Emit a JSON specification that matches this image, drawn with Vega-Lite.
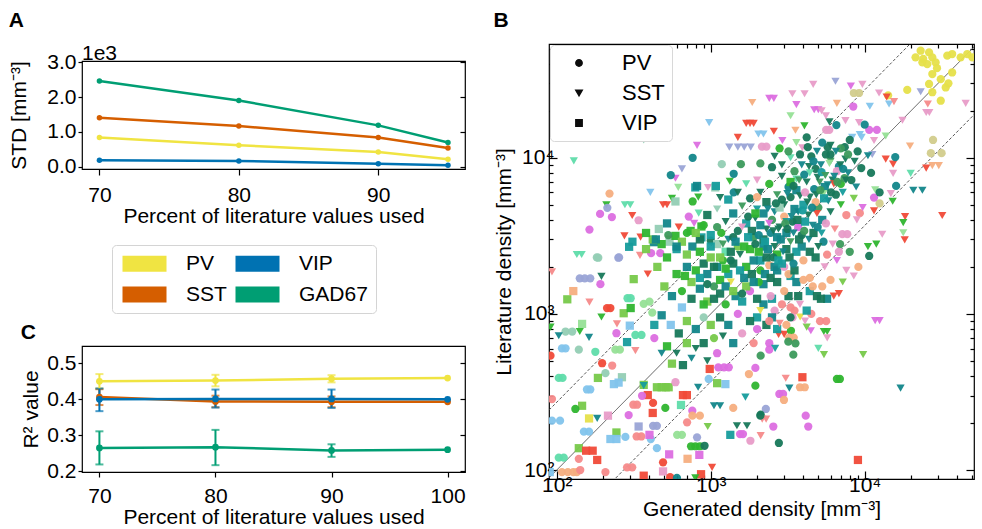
{
"$schema":"https://vega.github.io/schema/vega-lite/v6.json",
"background":"white",
"padding":{"left":8,"top":9,"right":2,"bottom":0},
"config":{
 "font":"Liberation Sans",
 "view":{"stroke":"black","strokeWidth":1.2},
 "axis":{"labelFont":"Liberation Sans","titleFont":"Liberation Sans","labelFontSize":21,"titleFontSize":21,"labelColor":"black","titleColor":"black","titleFontWeight":"normal","domain":false,"grid":false,"tickColor":"black","tickWidth":1.2},
 "title":{"font":"Liberation Sans","fontSize":21,"fontWeight":"bold","anchor":"start","frame":"bounds","color":"black"},
 "legend":{"labelFont":"Liberation Sans","labelFontSize":21,"labelColor":"black"}
},
"spacing":26,
"hconcat":[
 {"vconcat":[
  {"width":383,"height":1,"view":{"stroke":null},"data":{"values":[{"k":1}]},"mark":{"type":"point","opacity":0},"encoding":{}},
  {"vconcat":[
  {
   "title":{"text":"A","offset":12},
   "width":383,"height":108,
   "data":{"values":[
    {"pct":70,"std":2460,"type":"GAD67"},{"pct":80,"std":1900,"type":"GAD67"},{"pct":90,"std":1190,"type":"GAD67"},{"pct":95,"std":700,"type":"GAD67"},
    {"pct":70,"std":1410,"type":"SST"},{"pct":80,"std":1170,"type":"SST"},{"pct":90,"std":840,"type":"SST"},{"pct":95,"std":540,"type":"SST"},
    {"pct":70,"std":840,"type":"PV"},{"pct":80,"std":620,"type":"PV"},{"pct":90,"std":430,"type":"PV"},{"pct":95,"std":220,"type":"PV"},
    {"pct":70,"std":190,"type":"VIP"},{"pct":80,"std":170,"type":"VIP"},{"pct":90,"std":90,"type":"VIP"},{"pct":95,"std":50,"type":"VIP"}
   ]},
   "encoding":{"x":{"field":"pct","type":"quantitative","scale":{"domain":[68.75,96.22],"nice":false,"zero":false},"axis":{"values":[70,80,90],"title":"Percent of literature values used","tickSize":6,"labelPadding":9,"titlePadding":0}}},
   "layer":[
    {"mark":{"type":"circle","size":30,"opacity":1},
     "encoding":{"y":{"field":"std","type":"quantitative","scale":{"domain":[-58,3030],"nice":false,"zero":false},"axis":{"values":[0,1000,2000,3000],"labelExpr":"format(datum.value/1000,'.1f')","title":"STD [mm⁻³]","tickSize":4,"labelPadding":2,"titlePadding":17}},
      "color":{"field":"type","type":"nominal","scale":{"domain":["PV","SST","VIP","GAD67"],"range":["#f0e442","#d55e00","#0072b2","#009e73"]},
       "legend":{"orient":"none","legendX":30,"legendY":184,"columns":2,"title":null,"symbolType":"M-2.75,-1L2.75,-1L2.75,1L-2.75,1Z","symbolSize":256,"symbolOffset":14,"symbolStrokeWidth":0,"symbolOpacity":1,"labelFontSize":21,"labelOffset":31,"columnPadding":6,"rowPadding":9,"padding":8,"strokeColor":"#d4d4d4","cornerRadius":4,"fillColor":"white"}}}},
    {"mark":{"type":"line","strokeWidth":2.5},
     "encoding":{"y":{"field":"std","type":"quantitative","axis":{"orient":"right","values":[0,1000,2000,3000],"labels":false,"title":null,"tickSize":-5}},
      "color":{"field":"type","type":"nominal","scale":{"domain":["PV","SST","VIP","GAD67"],"range":["#f0e442","#d55e00","#0072b2","#009e73"]}}}},
    {"data":{"values":[{"pct":68.75,"std":3030,"t":"1e3"}]},"mark":{"type":"text","align":"left","baseline":"alphabetic","fontSize":21,"dy":-1,"color":"black"},
     "encoding":{"x":{"field":"pct","type":"quantitative"},"y":{"field":"std","type":"quantitative","axis":null},"text":{"field":"t","type":"nominal"}}}
   ],
   "resolve":{"axis":{"y":"independent"}}
  },
  {
   "title":{"text":"C","offset":3},
   "width":383,"height":126,
   "data":{"values":[
    {"pct":70,"r2":0.265,"lo":0.219,"hi":0.311,"type":"GAD67"},{"pct":80,"r2":0.267,"lo":0.217,"hi":0.315,"type":"GAD67"},{"pct":90,"r2":0.258,"lo":0.240,"hi":0.275,"type":"GAD67"},{"pct":100,"r2":0.260,"lo":0.260,"hi":0.260,"type":"GAD67"},
    {"pct":70,"r2":0.406,"lo":0.384,"hi":0.428,"type":"SST"},{"pct":80,"r2":0.394,"lo":0.378,"hi":0.410,"type":"SST"},{"pct":90,"r2":0.393,"lo":0.378,"hi":0.408,"type":"SST"},{"pct":100,"r2":0.393,"lo":0.393,"hi":0.393,"type":"SST"},
    {"pct":70,"r2":0.450,"lo":0.430,"hi":0.470,"type":"PV"},{"pct":80,"r2":0.452,"lo":0.436,"hi":0.468,"type":"PV"},{"pct":90,"r2":0.457,"lo":0.447,"hi":0.467,"type":"PV"},{"pct":100,"r2":0.459,"lo":0.459,"hi":0.459,"type":"PV"},
    {"pct":70,"r2":0.400,"lo":0.367,"hi":0.430,"type":"VIP"},{"pct":80,"r2":0.401,"lo":0.377,"hi":0.427,"type":"VIP"},{"pct":90,"r2":0.401,"lo":0.376,"hi":0.427,"type":"VIP"},{"pct":100,"r2":0.400,"lo":0.400,"hi":0.400,"type":"VIP"}
   ]},
   "encoding":{"x":{"field":"pct","type":"quantitative","scale":{"domain":[68.5,101.5],"nice":false,"zero":false},"axis":{"values":[70,80,90,100],"title":"Percent of literature values used","tickSize":5,"labelPadding":8,"titlePadding":0}},
    "color":{"field":"type","type":"nominal","scale":{"domain":["PV","SST","VIP","GAD67"],"range":["#f0e442","#d55e00","#0072b2","#009e73"]},"legend":null}},
   "layer":[
    {"mark":{"type":"line","strokeWidth":2.5},
     "encoding":{"y":{"field":"r2","type":"quantitative","scale":{"domain":[0.198,0.548],"nice":false,"zero":false},"axis":{"values":[0.2,0.3,0.4,0.5],"format":".1f","title":"R² value","tickSize":4,"labelPadding":2,"titlePadding":5}}}},
    {"transform":[{"filter":"datum.hi > datum.lo"}],"mark":{"type":"errorbar","ticks":{"size":8},"thickness":2},
     "encoding":{"y":{"field":"lo","type":"quantitative","axis":null},"y2":{"field":"hi"}}},
    {"mark":{"type":"circle","size":45,"opacity":1},
     "encoding":{"y":{"field":"r2","type":"quantitative","axis":{"orient":"right","values":[0.2,0.3,0.4,0.5],"labels":false,"title":null,"tickSize":-5}}}}
   ],
   "resolve":{"axis":{"y":"independent"}}
  }
  ],"spacing":6,"resolve":{"scale":{"color":"independent"},"legend":{"color":"independent"}}}
 ],"spacing":-39,"resolve":{"scale":{"color":"independent"},"legend":{"color":"independent"}}},
 {
  "title":{"text":"B","offset":12},
  "width":425,"height":435,
  "layer":[
   {"data":{"values":[{"gen":50,"lit":50,"k":"mid"},{"gen":100000,"lit":100000,"k":"mid"},{"gen":50,"lit":136,"k":"up"},{"gen":100000,"lit":272000,"k":"up"},{"gen":50,"lit":18.4,"k":"lo"},{"gen":100000,"lit":36800,"k":"lo"}]},
    "mark":{"type":"line","strokeWidth":0.9,"color":"#444444","clip":true},
    "encoding":{"x":{"field":"gen","type":"quantitative","scale":{"type":"log","domain":[89,51300],"nice":false},"axis":null},
     "y":{"field":"lit","type":"quantitative","scale":{"type":"log","domain":[87.6,53560],"nice":false},"axis":null},
     "strokeDash":{"field":"k","type":"nominal","scale":{"domain":["mid","up","lo"],"range":[[1,0],[3,2],[3,2]]},"legend":null}}},
   {"data":{"values":"gen,lit,type,region\n21400,44000,PV,c16\n23100,48500,PV,c16\n26200,47300,PV,c16\n27500,44000,PV,c16\n23700,40800,PV,c16\n25500,39800,PV,c16\n28900,40800,PV,c16\n34400,45100,PV,c16\n37000,46200,PV,c16\n42000,44000,PV,c16\n46400,46200,PV,c16\n50000,44000,PV,c16\n37000,35200,PV,c16\n27500,34400,PV,c16\n26200,29700,PV,c16\n31200,31900,PV,c16\n33600,28200,PV,c16\n27500,26300,PV,c16\n31200,23200,PV,c16\n18900,27200,PV,c16\n24000,43000,PV,c16\n29500,37500,PV,c16\n35000,30000,PV,c16\n14200,25100,PV,c16\n8500,26000,PV,c17\n9200,26000,PV,c17\n27800,13000,PV,c17\n26900,10700,PV,c17\n31600,10700,PV,c17\n23100,26500,SST,c15\n25100,19500,SST,c9\n26300,19500,SST,c9\n45300,22300,SST,c9\n25700,22100,SST,c12\n17600,17400,SST,c9\n10800,21400,SST,c14\n14400,22100,SST,c14\n13900,24500,SST,c11\n15500,22900,SST,c12\n12400,26000,SST,c9\n9660,29500,SST,c9\n8130,28800,SST,c10\n6460,30900,SST,c15\n4630,29500,SST,c9\n2400,24000,SST,c10\n2570,24000,SST,c10\n3390,25700,SST,c9\n4070,25700,SST,c9\n3600,21900,SST,c10\n4700,20300,SST,c10\n5000,20300,SST,c10\n6600,22300,SST,c13\n3300,18600,SST,c6\n2570,14800,SST,c11\n3550,15000,SST,c13\n4060,16000,SST,c4\n2920,12900,SST,c10\n3940,11600,SST,c9\n7500,17300,SST,c9\n9190,16800,SST,c9\n5900,17000,SST,c1\n13700,13800,SST,c6\n11500,12900,SST,c9\n19700,11900,SST,c13\n11200,10500,SST,c15\n13700,9800,SST,c11\n15300,9100,SST,c11\n15300,7940,SST,c9\n19900,7940,SST,c7\n20700,6200,SST,c2\n23700,6200,SST,c2\n27500,8900,SST,c13\n30300,8900,SST,c13\n25100,8590,SST,c11\n31900,4270,SST,c11\n18300,4200,SST,c11\n17800,3840,SST,c4\n17800,3310,SST,c6\n18200,2980,SST,c11\n13000,3240,SST,c9\n14800,5900,SST,c9\n15200,5270,SST,c4\n11500,4570,SST,c11\n11700,6240,SST,c6\n10500,2700,SST,c4\n11900,2800,SST,c4\n129,9550,SST,c7\n367,13000,SST,c8\n977,16800,SST,c14\n1860,22600,SST,c13\n1700,16600,SST,c11\n1800,16600,SST,c11\n1900,16600,SST,c11\n1500,13500,SST,c11\n815,12000,SST,c10\n1320,11700,SST,c15\n1500,11700,SST,c15\n1650,11700,SST,c15\n1820,11700,SST,c15\n590,7400,SST,c10\n650,8500,SST,c15\n615,6460,SST,c6\n405,6000,SST,c14\n277,5000,SST,c7\n300,5000,SST,c7\n210,5000,SST,c4\n490,5000,SST,c11\n520,5000,SST,c11\n835,4420,SST,c7\n560,5500,SST,c4\n830,5600,SST,c4\n960,6450,SST,c9\n1150,5560,SST,c1\n1330,7080,SST,c4\n309,4270,SST,c11\n2040,14200,SST,c14\n2200,14200,SST,c14\n5250,20000,SST,c9\n5600,18600,SST,c9\n2150,11800,PV,c9\n2300,11800,PV,c9\n5620,15100,PV,c9\n5890,15100,PV,c9\n10700,15100,PV,c10\n12000,15100,PV,c10\n10000,16300,PV,c2\n6550,16200,PV,c2\n4270,11700,PV,c1\n5750,11700,PV,c1\n7420,11700,PV,c1\n8430,21300,PV,c10\n9300,14100,SST,c14\n9550,13500,SST,c14\n8300,13500,SST,c14\n15800,10100,PV,c2\n16000,6600,PV,c2\n12500,5100,PV,c17\n11500,5560,PV,c10\n9300,4420,PV,c12\n7160,3240,PV,c9\n7710,3240,PV,c9\n6920,2800,PV,c3\n10700,2350,PV,c1\n550,7750,PV,c2\n763,10000,PV,c2\n220,5900,PV,c13\n213,4780,PV,c15\n191,4370,PV,c10\n228,4170,PV,c10\n340,3980,PV,c9\n163,3470,PV,c10\n470,2450,PV,c10\n410,2450,PV,c10\n537,3020,SST,c11\n540,2900,VIP,c8\n590,3160,VIP,c4\n740,3400,VIP,c4\n870,3630,VIP,c4\n870,3090,VIP,c18\n1000,2950,PV,c1\n1100,2800,VIP,c8\n1170,3300,PV,c4\n427,2880,VIP,c2\n135,2400,SST,c7\n145,2400,SST,c7\n186,2290,PV,c8\n251,2290,PV,c15\n347,2370,SST,c12\n275,3160,SST,c11\n295,2690,VIP,c18\n590,5250,VIP,c8\n794,6460,VIP,c18\n1070,6460,VIP,c8\n763,5250,PV,c4\n420,3000,VIP,c5\n480,2800,VIP,c4\n530,3200,PV,c3\n600,2600,VIP,c18\n650,2900,VIP,c5\n700,3300,PV,c4\n760,2700,VIP,c2\n850,3000,VIP,c1\n520,3800,VIP,c2\n460,3500,VIP,c8\n380,2600,VIP,c5\n310,2900,VIP,c18\n350,3100,SST,c11\n620,3600,SST,c11\n720,4200,PV,c10\n780,3800,SST,c10\n1410,6000,PV,c2\n1410,7900,PV,c2\n1570,9100,PV,c3\n1180,9100,PV,c8\n1080,6600,VIP,c18\n815,6600,VIP,c2\n380,3300,VIP,c4\n440,3000,VIP,c2\n182,2300,PV,c8\n254,2300,PV,c15\n11700,906,SST,c10\n12500,906,SST,c10\n5130,898,PV,c12\n5620,898,PV,c12\n5430,771,SST,c4\n5710,771,SST,c4\n5710,702,SST,c9\n4470,780,SST,c10\n4200,822,SST,c5\n3810,955,SST,c16\n2760,740,SST,c11\n3000,740,SST,c11\n3320,780,PV,c4\n3230,705,PV,c13\n3460,705,PV,c13\n3190,664,PV,c3\n3550,647,PV,c3\n2400,649,PV,c10\n2400,590,PV,c10\n2620,602,SST,c18\n5000,602,SST,c7\n3440,548,PV,c3\n2110,540,PV,c3\n5440,548,SST,c5\n9770,548,SST,c5\n3070,387,SST,c12\n3940,393,VIP,c11\n6600,383,PV,c4\n6900,383,PV,c4\n3800,339,PV,c13\n4080,339,PV,c13\n3240,335,SST,c2\n17100,335,SST,c2\n2790,307,PV,c10\n2950,307,PV,c10\n2990,281,PV,c13\n2280,246,PV,c15\n2110,226,PV,c1\n2160,212,SST,c12\n2290,212,SST,c12\n4140,223,PV,c10\n4300,190,PV,c10\n2550,190,PV,c10\n2770,149,PV,c1\n9040,116,VIP,c11\n2110,166,SST,c12\n93,1860,SST,c12\n141,1690,PV,c15\n152,1690,PV,c15\n165,1690,PV,c15\n195,1740,SST,c1\n192,1550,PV,c10\n316,1670,VIP,c5\n128,1400,VIP,c13\n117,1240,VIP,c5\n288,1260,PV,c7\n302,1260,PV,c7\n163,1190,SST,c12\n212,1090,PV,c11\n223,1090,PV,c11\n272,1010,VIP,c5\n367,1160,PV,c6\n302,1090,VIP,c4\n417,1020,PV,c6\n195,955,SST,c4\n246,863,SST,c12\n146,863,VIP,c6\n141,771,SST,c4\n91,822,SST,c4\n114,771,PV,c8\n126,771,PV,c8\n103,725,SST,c2\n162,708,SST,c2\n244,752,PV,c10\n298,841,VIP,c14\n324,733,PV,c7\n355,733,PV,c7\n286,660,VIP,c18\n108,602,PV,c14\n114,602,PV,c14\n139,590,PV,c8\n178,572,PV,c7\n240,590,PV,c6\n257,590,PV,c6\n324,582,SST,c12\n91,540,PV,c11\n197,483,PV,c11\n229,467,PV,c12\n207,417,PV,c8\n103,389,PV,c7\n109,389,PV,c7\n185,389,VIP,c5\n265,393,VIP,c8\n252,363,VIP,c14\n235,355,VIP,c14\n165,328,PV,c14\n157,328,PV,c14\n367,351,VIP,c5\n93,285,PV,c12\n146,258,VIP,c5\n132,246,PV,c4\n314,262,PV,c12\n332,262,PV,c12\n422,269,PV,c11\n507,250,PV,c4\n162,214,VIP,c16\n183,214,SST,c2\n215,223,VIP,c9\n93,207,PV,c14\n105,207,PV,c14\n150,176,PV,c14\n162,176,PV,c14\n293,225,PV,c10\n422,192,PV,c15\n447,192,PV,c15\n340,190,VIP,c15\n244,174,VIP,c5\n223,158,VIP,c14\n244,158,VIP,c14\n279,163,PV,c14\n330,164,PV,c12\n354,164,PV,c12\n408,158,PV,c14\n605,168,PV,c6\n650,168,PV,c6\n400,168,VIP,c10\n139,138,VIP,c5\n155,133,VIP,c11\n171,133,VIP,c11\n183,116,VIP,c11\n103,120,PV,c7\n111,120,PV,c7\n139,118,PV,c12\n108,97,PV,c13\n118,97,PV,c13\n128,97,PV,c13\n135,97,PV,c13\n142,100,PV,c12\n90,97,VIP,c14\n447,138,PV,c14\n537,126,VIP,c10\n490,112,PV,c11\n490,98,VIP,c9\n707,118,VIP,c13\n286,104,PV,c12\n309,104,PV,c12\n207,97,PV,c12\n367,92,VIP,c11\n865,94,VIP,c11\n1020,104,SST,c11\n545,90,PV,c11\n603,89,PV,c2\n794,89,SST,c4\n759,240,PV,c10\n702,202,PV,c12\n760,223,PV,c13\n850,223,PV,c13\n745,142,PV,c4\n795,142,PV,c4\n850,142,PV,c4\n912,143,PV,c1\n815,162,PV,c15\n843,125,VIP,c10\n956,190,SST,c5\n660,302,VIP,c11\n700,302,VIP,c11\n390,302,VIP,c11\n420,232,VIP,c11\n641,261,VIP,c7\n358,299,PV,c10\n447,339,VIP,c5\n480,339,VIP,c5\n510,339,VIP,c5\n533,339,VIP,c5\n367,347,SST,c18\n590,365,PV,c9\n1245,355,VIP,c14\n1100,360,VIP,c5\n970,383,PV,c14\n828,339,SST,c2\n1050,258,SST,c2\n1150,258,SST,c2\n1400,250,PV,c13\n1340,168,VIP,c18\n1550,170,PV,c10\n1620,170,PV,c10\n1810,154,PV,c9\n1480,192,SST,c1\n1720,192,SST,c1\n1680,293,SST,c18\n1770,412,PV,c13\n1950,347,PV,c4\n2100,223,PV,c1\n1120,455,PV,c10\n1220,455,PV,c10\n1310,455,PV,c10\n985,444,VIP,c11\n1950,451,PV,c10\n2100,2200,VIP,c18\n2400,2050,PV,c13\n2700,1900,VIP,c2\n3000,2000,PV,c9\n3300,1750,VIP,c18\n3600,1600,VIP,c2\n4000,1650,PV,c13\n4400,1400,VIP,c18\n4900,1300,VIP,c1\n5300,1500,PV,c13\n5700,1250,VIP,c2\n6300,1300,SST,c11\n6800,1350,SST,c11\n6000,1650,PV,c13\n2200,1150,VIP,c2\n2500,1250,VIP,c18\n2900,1150,PV,c12\n3200,1300,VIP,c1\n3500,1050,PV,c12\n2600,1050,PV,c9\n3800,1150,SST,c9\n4100,900,SST,c9\n4500,1000,PV,c12\n2300,850,VIP,c1\n2000,950,VIP,c18\n2700,800,VIP,c18\n3100,850,PV,c13\n3400,950,PV,c9\n5500,2000,SST,c9\n6600,2200,SST,c10\n7600,1900,SST,c9\n8500,1750,SST,c9\n7200,1600,SST,c5\n9100,2000,PV,c13\n8000,2500,PV,c3\n4800,2300,VIP,c1\n5400,2900,PV,c2\n600,1800,VIP,c4\n700,2000,VIP,c2\n800,1900,VIP,c4\n900,2100,VIP,c1\n1000,2300,VIP,c5\n1100,2000,VIP,c2\n1200,2200,PV,c4\n1300,1800,VIP,c18\n1400,2100,VIP,c1\n1550,2400,SST,c1\n1700,2000,VIP,c4\n1900,2200,VIP,c2\n2100,1900,PV,c4\n2300,2300,VIP,c1\n2600,2000,VIP,c2\n2900,2100,VIP,c18\n3200,1800,PV,c13\n3500,1900,VIP,c1\n4000,2200,PV,c13\n4400,1700,PV,c13\n500,1500,VIP,c5\n560,1300,VIP,c2\n650,1400,PV,c4\n750,1250,VIP,c1\n850,1450,VIP,c2\n950,1200,VIP,c5\n1050,1500,PV,c3\n1150,1350,VIP,c1\n1250,1150,PV,c4\n1350,1600,SST,c16\n1450,1300,VIP,c2\n1600,1200,VIP,c18\n1800,1400,PV,c10\n2000,1250,VIP,c1\n2200,1550,VIP,c2\n2450,1300,PV,c9\n2700,1600,VIP,c1\n3000,1400,PV,c13\n3300,1100,PV,c12\n3700,1300,VIP,c1\n4200,1050,VIP,c18\n4600,1500,PV,c13\n5200,1250,VIP,c1\n2500,950,VIP,c2\n2100,1050,SST,c16\n1800,900,VIP,c1\n1500,1000,PV,c10\n1300,850,VIP,c2\n1150,950,VIP,c1\n1000,850,VIP,c5\n900,950,PV,c8\n800,800,VIP,c2\n700,900,VIP,c5\n620,750,VIP,c1\n550,850,VIP,c14\n480,980,VIP,c2\n430,850,VIP,c18\n900,650,VIP,c1\n1050,700,PV,c5\n1200,720,SST,c1\n1400,650,VIP,c2\n800,600,SST,c1\n700,650,VIP,c5\n600,560,SST,c1\n520,620,VIP,c4\n650,1100,VIP,c14\n1600,750,PV,c9\n2000,800,PV,c10\n2400,900,PV,c12\n2800,870,SST,c12\n3300,950,PV,c1\n1900,650,PV,c12\n750,520,SST,c2\n950,500,SST,c1\n1100,560,PV,c10\n560,480,VIP,c5\n480,560,SST,c2\n660,470,VIP,c1\n400,1200,PV,c6\n430,700,PV,c10\n3900,2700,VIP,c2\n4400,2500,VIP,c1\n5000,2700,SST,c1\n5700,2400,PV,c12\n6200,2800,SST,c9\n6800,2500,PV,c9\n3600,2500,VIP,c18\n3100,2600,VIP,c1\n2700,2400,VIP,c4\n2200,2700,VIP,c2\n1800,2600,VIP,c4\n1500,2700,PV,c5\n1250,2500,VIP,c7\n1000,2700,VIP,c18\n850,2500,VIP,c4\n700,2400,VIP,c5\n600,2700,VIP,c2\n520,2300,VIP,c4\n450,2000,VIP,c5\n390,1800,SST,c11\n3000,5000,SST,c1\n3300,5600,PV,c1\n2600,4500,SST,c2\n3600,6200,VIP,c2\n4200,7000,SST,c1\n4800,8500,PV,c1\n5200,9000,SST,c2\n5600,10500,PV,c1\n6000,9500,SST,c3\n6800,8800,PV,c2\n7500,9800,SST,c1\n4500,10200,PV,c1\n3900,9000,SST,c2\n3500,8200,PV,c3\n2900,7600,SST,c1\n2400,6800,PV,c4\n2100,6000,SST,c1\n1800,5500,PV,c1\n1600,4900,SST,c3\n1400,4400,VIP,c2\n1250,3900,SST,c1\n1100,3600,PV,c3\n1000,3200,VIP,c18\n1300,3000,SST,c2\n1500,3400,PV,c1\n1700,3800,VIP,c18\n1950,4100,SST,c1\n2200,4400,VIP,c2\n2500,4000,PV,c3\n2800,3600,SST,c1\n3100,3300,VIP,c2\n3400,3900,PV,c1\n3700,4500,SST,c2\n4000,5000,VIP,c18\n4400,5600,SST,c1\n4700,6300,PV,c2\n5100,7000,SST,c3\n5500,6500,VIP,c2\n6200,7200,SST,c1\n7000,6800,PV,c4\n7800,8000,SST,c2\n3800,5700,SST,c1\n3200,6500,PV,c2\n2700,5800,SST,c3\n2300,5200,VIP,c1\n2000,4700,SST,c18\n1750,4200,PV,c1\n3500,4700,VIP,c2\n4300,4300,SST,c1\n5000,4800,PV,c3\n5800,5300,SST,c2\n6500,5800,PV,c1\n7200,6000,SST,c18\n8200,7200,PV,c1\n8800,6500,SST,c2\n9500,8600,PV,c1\n4600,3700,SST,c2\n3900,3200,PV,c1\n3300,2900,SST,c3\n2700,3100,VIP,c2\n2300,3500,SST,c1\n1900,3100,PV,c3\n2600,2700,SST,c1\n5300,4000,VIP,c2\n6000,4500,SST,c1\n4800,5200,PV,c13\n3000,4200,PV,c13\n2000,5600,PV,c13\n4100,6000,PV,c9\n5400,5900,SST,c6\n3600,7300,SST,c7\n2800,4800,VIP,c8\n6300,6800,SST,c11\n4900,4400,SST,c11\n3700,3600,PV,c10\n2400,3800,SST,c10\n1600,3600,SST,c9\n6600,8200,PV,c9\n5900,9200,SST,c6\n4400,8000,SST,c7\n3300,7000,VIP,c4\n7400,7400,PV,c3\n8500,5500,SST,c5\n7000,5000,SST,c4\n4100,3900,VIP,c18\n3100,3900,SST,c18\n2100,3700,VIP,c2\n1400,3100,PV,c1\n1200,2800,SST,c3\n5600,3800,PV,c9\n6400,3500,SST,c12\n7600,4300,PV,c12\n8900,4000,SST,c9\n9700,4800,SST,c10\n2900,9000,SST,c1\n2500,8700,PV,c1\n2000,7200,SST,c9\n1700,6800,SST,c7\n1500,6000,SST,c1\n1300,5400,VIP,c18\n1100,4700,SST,c8\n950,4300,VIP,c1\n900,3700,PV,c4\n800,3300,VIP,c5\n11000,8000,PV,c1\n10500,10300,SST,c2\n9000,11000,PV,c1\n7000,11500,PV,c3\n6000,12000,SST,c1\n4900,11000,SST,c2\n3800,10500,PV,c1\n3300,10000,SST,c7\n2600,10200,SST,c1\n2100,9200,PV,c3\n12500,6000,PV,c1\n2200,3000,VIP,c1\n2450,3300,PV,c2\n2750,3500,SST,c1\n3050,3800,PV,c3\n3350,4200,SST,c2\n3650,4000,VIP,c1\n3950,4600,PV,c18\n4250,5200,SST,c1\n4550,4800,PV,c2\n4850,5800,SST,c1\n5150,6200,PV,c3\n5450,5500,VIP,c18\n5750,6700,SST,c2\n6050,6000,PV,c1\n6350,7600,SST,c2\n6650,7000,PV,c3\n6950,9000,SST,c1\n7250,8500,PV,c2\n7550,7200,SST,c1\n2900,5400,PV,c1\n3150,5900,SST,c2\n3450,6600,PV,c1\n3750,7200,SST,c3\n4050,7800,PV,c2\n4350,8800,SST,c1\n4650,9500,PV,c2\n4950,7500,SST,c1\n5250,8100,PV,c18\n5550,7700,SST,c3\n2350,4700,SST,c2\n2650,5100,PV,c1\n1950,4400,VIP,c4\n1850,3400,VIP,c1\n2050,3200,PV,c2\n2250,2900,VIP,c18\n2550,3400,SST,c1\n2850,3000,VIP,c2\n3150,3500,PV,c1\n3450,3300,SST,c2\n3750,3000,VIP,c1\n4050,3400,PV,c3\n4350,3000,SST,c2\n4650,3300,VIP,c1\n4950,3600,PV,c2\n5250,3300,SST,c18\n1350,2500,VIP,c1\n1450,2900,VIP,c2\n1650,2700,VIP,c4\n1750,3100,VIP,c18\n1950,2800,PV,c1\n2050,2500,VIP,c4\n2350,2600,VIP,c2\n2550,2300,PV,c1\n2750,2200,VIP,c18\n2950,2500,SST,c2\n3250,2300,VIP,c1\n3450,2100,PV,c2\n1150,2300,VIP,c5\n1050,2000,VIP,c1\n950,1800,VIP,c2\n1250,1950,VIP,c4\n1350,2200,PV,c1\n1550,1900,VIP,c18\n1650,1700,VIP,c2\n1850,1800,VIP,c1\n2050,1600,PV,c4\n2250,1800,VIP,c2\n2450,1700,VIP,c1\n1150,1650,VIP,c4\n1250,1500,VIP,c2\n1050,1250,VIP,c1\n900,1150,VIP,c4\n850,1700,VIP,c18\n750,1600,VIP,c5\n680,1750,VIP,c4\n950,1550,PV,c1\n1700,1500,VIP,c5\n1900,1600,VIP,c2\n1400,1400,VIP,c5\n1600,1350,PV,c1\n6000,10500,PV,c1\n6500,11000,SST,c2\n7800,10500,PV,c3\n8600,9500,SST,c1\n5300,12500,PV,c2\n8000,13000,PV,c1\n3200,11000,PV,c3\n3600,12500,SST,c6\n4200,13500,PV,c1\n2800,11500,PV,c4","format":{"type":"csv","parse":{"gen":"number","lit":"number"}}},
    "mark":{"type":"point","filled":true,"size":68,"opacity":0.95,"clip":true},
    "encoding":{
     "x":{"field":"gen","type":"quantitative","scale":{"type":"log","domain":[89,51300],"nice":false},
      "axis":{"orient":"bottom","values":[100,200,300,400,500,600,700,800,900,1000,2000,3000,4000,5000,6000,7000,8000,9000,10000,20000,30000,40000,50000],"labelExpr":"datum.value === 100 ? '10²' : datum.value === 1000 ? '10³' : datum.value === 10000 ? '10⁴' : ''","tickSize":{"condition":{"test":"datum.value === 100 || datum.value === 1000 || datum.value === 10000","value":-8},"value":-4},"labelPadding":3,"title":"Generated density [mm⁻³]","titlePadding":3}},
     "y":{"field":"lit","type":"quantitative","scale":{"type":"log","domain":[87.6,53560],"nice":false},
      "axis":{"orient":"left","values":[100,200,300,400,500,600,700,800,900,1000,2000,3000,4000,5000,6000,7000,8000,9000,10000,20000,30000,40000,50000],"labelExpr":"datum.value === 100 ? '10²' : datum.value === 1000 ? '10³' : datum.value === 10000 ? '10⁴' : ''","tickSize":{"condition":{"test":"datum.value === 100 || datum.value === 1000 || datum.value === 10000","value":-8},"value":-4},"labelPadding":3,"title":"Literature density [mm⁻³]","titlePadding":7}},
     "shape":{"field":"type","type":"nominal","scale":{"domain":["PV","SST","VIP"],"range":["circle","triangle-down","square"]},
      "legend":{"orient":"top-left","offset":1,"title":null,"symbolFillColor":"black","symbolStrokeColor":"black","symbolSize":40,"symbolOffset":11,"labelOffset":32,"labelFontSize":22,"rowPadding":8,"padding":7,"strokeColor":"#d8d8d8","fillColor":"white","cornerRadius":4}},
     "color":{"field":"region","type":"nominal","scale":{"domain":["c1","c2","c3","c4","c5","c6","c7","c8","c9","c10","c11","c12","c13","c14","c15","c16","c17","c18"],"range":["#17785a","#12868a","#3c9a5c","#2fb52f","#77c94a","#96e096","#5fdcaa","#93cdb4","#e89cc8","#dc6ee0","#f04a38","#f68a8a","#f6ae80","#82c4ec","#9aa4d6","#e6e04a","#d2cc8c","#169c9c"]},"legend":null}
    }},
   {"data":{"values":[{"gen":1000,"lit":1000}]},"mark":{"type":"point","opacity":0},
    "encoding":{
     "x":{"field":"gen","type":"quantitative","scale":{"type":"log","domain":[89,51300],"nice":false},"axis":{"orient":"top","values":[100,200,300,400,500,600,700,800,900,1000,2000,3000,4000,5000,6000,7000,8000,9000,10000,20000,30000,40000,50000],"labels":false,"title":null,"tickSize":{"condition":{"test":"datum.value === 100 || datum.value === 1000 || datum.value === 10000","value":-8},"value":-4}}},
     "y":{"field":"lit","type":"quantitative","scale":{"type":"log","domain":[87.6,53560],"nice":false},"axis":{"orient":"right","values":[100,200,300,400,500,600,700,800,900,1000,2000,3000,4000,5000,6000,7000,8000,9000,10000,20000,30000,40000,50000],"labels":false,"title":null,"tickSize":{"condition":{"test":"datum.value === 100 || datum.value === 1000 || datum.value === 10000","value":-8},"value":-4}}}
    }}
  ],
  "resolve":{"axis":{"x":"independent","y":"independent"}}
 }
],
"resolve":{"scale":{"color":"independent","shape":"independent"},"legend":{"color":"independent","shape":"independent"}}
}
